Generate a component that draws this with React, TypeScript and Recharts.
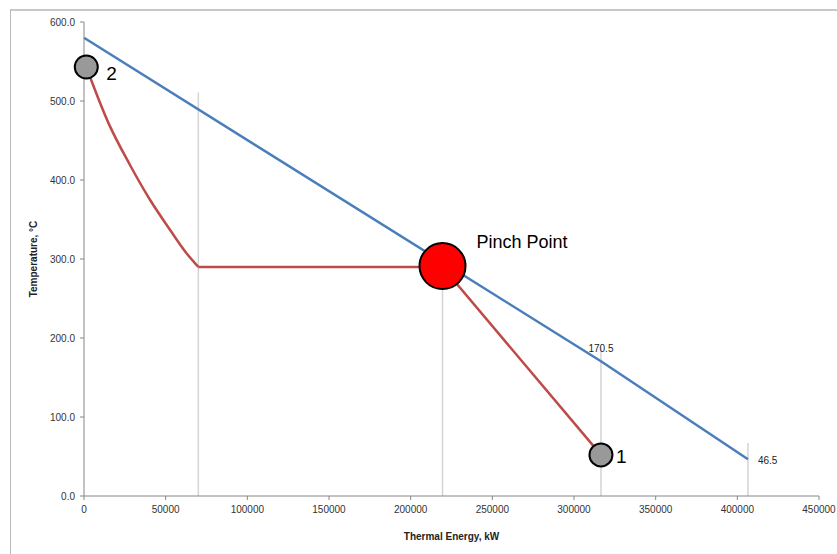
import React from "react";
import { ComposedChart, Line, Scatter, XAxis, YAxis, Label } from "recharts";

// Hot stream (blue)
const hotEnergy = [0, 316500, 406500];
const hotTemp = [580, 170.5, 46.5];

// Cold stream (red) - curved heating section
const coldCurveEnergy = [1400, 15000, 28160, 40400, 52650, 62870, 70000];
const coldCurveTemp = [543, 472, 419, 375, 337, 307, 290];
// Cold stream - evaporation and lower section
const coldFlatEnergy = [70000, 219500, 316500];
const coldFlatTemp = [290, 290, 52];

// Vertical guide lines
const guideEnergy = [70000, 219500, 316500, 406500];
const guideTop = [511, 290, 189, 67];

// Markers
const markerEnergy = [1400, 219500, 316500];
const markerTemp = [543, 291, 52];
const markerNames = ["2", "Pinch Point", "1"];
const markerKinds = ["small", "pinch", "small"];

// Value labels
const valueEnergy = [316500, 406500];
const valueTemp = [189, 46.5];
const valueText = ["170.5", "46.5"];
const valueKinds = ["above", "right"];

const xTicks = [0, 50000, 100000, 150000, 200000, 250000, 300000, 350000, 400000, 450000];
const yTicks = [0, 100, 200, 300, 400, 500, 600];

const zip = (xs: number[], ys: number[]) => xs.map((x, i) => ({ x, y: ys[i] }));

const hotData = zip(hotEnergy, hotTemp);
const coldCurveData = zip(coldCurveEnergy, coldCurveTemp);
const coldFlatData = zip(coldFlatEnergy, coldFlatTemp);
const guides = guideEnergy.map((x, i) => [
  { x, y: 0 },
  { x, y: guideTop[i] },
]);
const markers = markerEnergy.map((x, i) => ({ x, y: markerTemp[i], name: markerNames[i], kind: markerKinds[i] }));
const values = valueEnergy.map((x, i) => ({ x, y: valueTemp[i], text: valueText[i], kind: valueKinds[i] }));

const FONT = "'Liberation Sans', Arial, sans-serif";

const MarkerShape = (props: any) => {
  const { cx, cy, payload } = props;
  if (payload.kind === "pinch") {
    return (
      <g>
        <circle cx={cx} cy={cy} r={23} fill="#ff0000" stroke="#000" strokeWidth={2} />
        <text x={cx + 34} y={cy - 18} fontSize={18} fontFamily={FONT} fill="#000">
          {payload.name}
        </text>
      </g>
    );
  }
  const isTop = payload.name === "2";
  return (
    <g>
      <circle cx={cx} cy={cy} r={11.5} fill="#999999" stroke="#000" strokeWidth={2} />
      <text x={cx + (isTop ? 20 : 15)} y={cy + (isTop ? 13 : 8)} fontSize={19} fontFamily={FONT} fill="#000">
        {payload.name}
      </text>
    </g>
  );
};

const ValueShape = (props: any) => {
  const { cx, cy, payload } = props;
  if (payload.kind === "above") {
    return (
      <text x={cx} y={cy + 5} textAnchor="middle" fontSize={10} fontFamily={FONT} fill="#222">
        {payload.text}
      </text>
    );
  }
  return (
    <text x={cx + 10} y={cy + 5} textAnchor="start" fontSize={10} fontFamily={FONT} fill="#222">
      {payload.text}
    </text>
  );
};

export default function App() {
  return (
    <div style={{ position: "absolute", left: 0, top: 0, width: 837, height: 554, overflow: "hidden", background: "#fff" }}>
      <div
        style={{
          position: "absolute",
          left: 10,
          top: 9,
          width: 900,
          height: 700,
          borderTop: "2px solid #c8c8c8",
          borderLeft: "1px solid #b8b8b8",
        }}
      />
      <div style={{ position: "absolute", left: 0, top: 0 }}>
        <ComposedChart width={837} height={554} margin={{ top: 22, right: 18, bottom: 28, left: 24 }}>
          <XAxis
            type="number"
            dataKey="x"
            domain={[0, 450000]}
            ticks={xTicks}
            interval={0}
            height={30}
            tickSize={4}
            tickMargin={6}
            stroke="#868686"
            tick={{ fill: "#333", fontSize: 10, fontFamily: FONT }}
          >
            <Label
              value="Thermal Energy, kW"
              position="insideBottom"
              offset={-14}
              style={{ fontSize: 10, fontWeight: "bold", fontFamily: FONT, fill: "#222" }}
            />
          </XAxis>
          <YAxis
            type="number"
            dataKey="y"
            domain={[0, 600]}
            ticks={yTicks}
            interval={0}
            width={60}
            tickSize={4}
            tickMargin={5}
            stroke="#868686"
            tickFormatter={(v: number) => v.toFixed(1)}
            tick={{ fill: "#333", fontSize: 10, fontFamily: FONT }}
          >
            <Label
              value="Temperature, °C"
              angle={-90}
              position="insideLeft"
              offset={9}
              style={{ fontSize: 10, fontWeight: "bold", fontFamily: FONT, fill: "#222", textAnchor: "middle" }}
            />
          </YAxis>
          {guides.map((g, i) => (
            <Line
              key={"g" + i}
              data={g}
              dataKey="y"
              type="linear"
              stroke="#d4d4d4"
              strokeWidth={1.5}
              dot={false}
              activeDot={false}
              isAnimationActive={false}
            />
          ))}
          <Line data={hotData} dataKey="y" type="linear" stroke="#4a7ebb" strokeWidth={2.5} dot={false} activeDot={false} isAnimationActive={false} />
          <Line data={coldCurveData} dataKey="y" type="monotone" stroke="#be4b48" strokeWidth={2.5} dot={false} activeDot={false} isAnimationActive={false} />
          <Line data={coldFlatData} dataKey="y" type="linear" stroke="#be4b48" strokeWidth={2.5} dot={false} activeDot={false} isAnimationActive={false} />
          <Scatter data={values} dataKey="y" shape={ValueShape} isAnimationActive={false} />
          <Scatter data={markers} dataKey="y" shape={MarkerShape} isAnimationActive={false} />
        </ComposedChart>
      </div>
    </div>
  );
}
